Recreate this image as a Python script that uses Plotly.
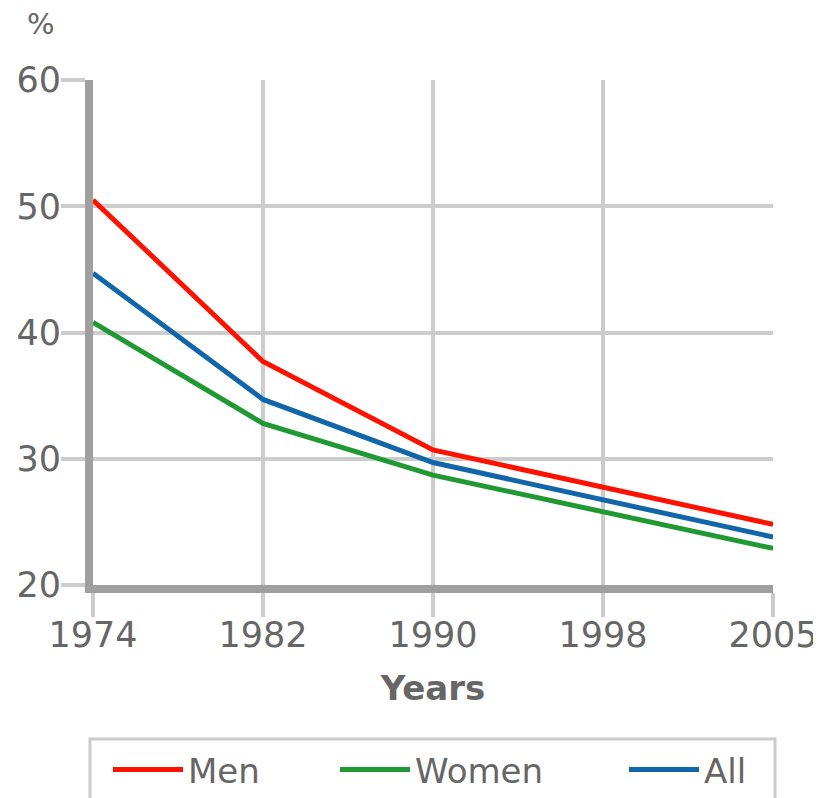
import plotly.graph_objects as go

years = ["1974", "1982", "1990", "1998", "2005"]
men = [50.5, 37.7, 30.7, 27.8, 24.8]
women = [40.8, 32.8, 28.7, 25.8, 22.9]
all_ = [44.7, 34.7, 29.7, 26.8, 23.8]
y_ticks = [20, 30, 40, 50, 60]

series = [
    ("Men", men, "#ff1100", "legend"),
    ("Women", women, "#209933", "legend2"),
    ("All", all_, "#1166aa", "legend3"),
]

TXT = "#666666"
font = dict(family="DejaVu Sans", size=35, color=TXT)
lfont = dict(family="DejaVu Sans", size=34, color=TXT)

fig = go.Figure()
for name, vals, col, lg in series:
    fig.add_trace(go.Scatter(x=years, y=vals, name=name, mode="lines",
                             line=dict(color=col, width=5), legend=lg))

# page body has an 8px margin; compensate so the plot area sits at x 93..773, y 80..585
W, H = 813, 790
ml, mr, mt, mb = 85, 48, 72, 213
pw = W - ml - mr
ph = H - mt - mb

def px_x(px):
    return (px - 8 - ml) / pw

def px_y(py):
    return 1 - (py - 8 - mt) / ph

legend_common = dict(orientation="h", yanchor="middle", y=px_y(770), xanchor="left",
                     borderwidth=0, bgcolor="rgba(0,0,0,0)", font=lfont, itemwidth=70)

fig.update_layout(
    width=W, height=H,
    margin=dict(l=ml, r=mr, t=mt, b=mb, autoexpand=False),
    paper_bgcolor="white", plot_bgcolor="white",
    font=font,
    showlegend=True,
    legend=dict(legend_common, x=px_x(108)),
    legend2=dict(legend_common, x=px_x(335)),
    legend3=dict(legend_common, x=px_x(624)),
    xaxis=dict(type="category", range=[0, 4], showgrid=True, gridcolor="#cccccc",
               gridwidth=4, ticks="outside", ticklen=24, tickwidth=4, tickcolor="#cccccc",
               showline=True, linecolor="#9f9f9f", linewidth=8, zeroline=False,
               tickfont=font, ticklabelstandoff=-12,
               title=dict(text="<b>Years</b>", font=dict(family="DejaVu Sans", size=34, color=TXT), standoff=25)),
    yaxis=dict(range=[20, 60], tickvals=y_ticks, showgrid=True,
               gridcolor="#cccccc", gridwidth=4, ticks="outside", ticklen=24,
               tickwidth=4, tickcolor="#cccccc", showline=True, linecolor="#9f9f9f",
               linewidth=8, zeroline=False, tickfont=font, ticklabelstandoff=-7),
    annotations=[dict(text="%", xref="paper", yref="paper", x=px_x(41), y=px_y(24),
                      xanchor="center", yanchor="middle", showarrow=False,
                      font=dict(family="DejaVu Sans", size=29, color=TXT))],
    shapes=[dict(type="rect", xref="paper", yref="paper",
                 x0=px_x(90), x1=px_x(775), y0=px_y(830), y1=px_y(739),
                 line=dict(color="#cccccc", width=3), fillcolor="rgba(0,0,0,0)",
                 layer="below")],
)

fig.write_html("out.html")
